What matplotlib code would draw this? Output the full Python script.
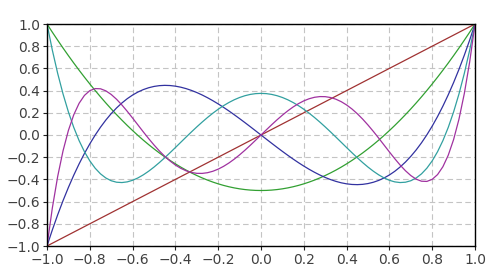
import matplotlib
matplotlib.use("Agg")
import matplotlib.pyplot as plt

# x positions (shared by all series)
x_vals = [-1.0, -0.975, -0.95, -0.925, -0.9, -0.875, -0.85, -0.825, -0.8, -0.775,
          -0.75, -0.725, -0.7, -0.675, -0.65, -0.625, -0.6, -0.575, -0.55, -0.525,
          -0.5, -0.475, -0.45, -0.425, -0.4, -0.375, -0.35, -0.325, -0.3, -0.275,
          -0.25, -0.225, -0.2, -0.175, -0.15, -0.125, -0.1, -0.075, -0.05, -0.025,
          0.0, 0.025, 0.05, 0.075, 0.1, 0.125, 0.15, 0.175, 0.2, 0.225,
          0.25, 0.275, 0.3, 0.325, 0.35, 0.375, 0.4, 0.425, 0.45, 0.475,
          0.5, 0.525, 0.55, 0.575, 0.6, 0.625, 0.65, 0.675, 0.7, 0.725,
          0.75, 0.775, 0.8, 0.825, 0.85, 0.875, 0.9, 0.925, 0.95, 0.975, 1.0]

line_brown = [-1.0, -0.975, -0.95, -0.925, -0.9, -0.875, -0.85, -0.825, -0.8, -0.775,
              -0.75, -0.725, -0.7, -0.675, -0.65, -0.625, -0.6, -0.575, -0.55, -0.525,
              -0.5, -0.475, -0.45, -0.425, -0.4, -0.375, -0.35, -0.325, -0.3, -0.275,
              -0.25, -0.225, -0.2, -0.175, -0.15, -0.125, -0.1, -0.075, -0.05, -0.025,
              0.0, 0.025, 0.05, 0.075, 0.1, 0.125, 0.15, 0.175, 0.2, 0.225,
              0.25, 0.275, 0.3, 0.325, 0.35, 0.375, 0.4, 0.425, 0.45, 0.475,
              0.5, 0.525, 0.55, 0.575, 0.6, 0.625, 0.65, 0.675, 0.7, 0.725,
              0.75, 0.775, 0.8, 0.825, 0.85, 0.875, 0.9, 0.925, 0.95, 0.975, 1.0]

line_green = [1.0, 0.9259, 0.8538, 0.7834, 0.715, 0.6484, 0.5838, 0.5209, 0.46, 0.4009,
              0.3438, 0.2884, 0.235, 0.1834, 0.1338, 0.0859, 0.04, -0.0041, -0.0463, -0.0866,
              -0.125, -0.1616, -0.1963, -0.2291, -0.26, -0.2891, -0.3163, -0.3416, -0.365, -0.3866,
              -0.4063, -0.4241, -0.44, -0.4541, -0.4663, -0.4766, -0.485, -0.4916, -0.4963, -0.4991,
              -0.5, -0.4991, -0.4963, -0.4916, -0.485, -0.4766, -0.4663, -0.4541, -0.44, -0.4241,
              -0.4063, -0.3866, -0.365, -0.3416, -0.3163, -0.2891, -0.26, -0.2291, -0.1963, -0.1616,
              -0.125, -0.0866, -0.0463, -0.0041, 0.04, 0.0859, 0.1338, 0.1834, 0.235, 0.2884,
              0.3438, 0.4009, 0.46, 0.5209, 0.5838, 0.6484, 0.715, 0.7834, 0.8538, 0.9259, 1.0]

line_blue = [-1.0, -0.8547, -0.7184, -0.5911, -0.4725, -0.3623, -0.2603, -0.1663, -0.08, -0.0012,
             0.0703, 0.1348, 0.1925, 0.2436, 0.2884, 0.3272, 0.36, 0.3872, 0.4091, 0.4257,
             0.4375, 0.4446, 0.4472, 0.4456, 0.44, 0.4307, 0.4178, 0.4017, 0.3825, 0.3605,
             0.3359, 0.309, 0.28, 0.2491, 0.2166, 0.1826, 0.1475, 0.1115, 0.0747, 0.0375,
             0.0, -0.0375, -0.0747, -0.1115, -0.1475, -0.1826, -0.2166, -0.2491, -0.28, -0.309,
             -0.3359, -0.3605, -0.3825, -0.4017, -0.4178, -0.4307, -0.44, -0.4456, -0.4472, -0.4446,
             -0.4375, -0.4257, -0.4091, -0.3872, -0.36, -0.3272, -0.2884, -0.2436, -0.1925, -0.1348,
             -0.0703, 0.0012, 0.08, 0.1663, 0.2603, 0.3623, 0.4725, 0.5911, 0.7184, 0.8547, 1.0]

line_teal = [1.0, 0.7638, 0.5541, 0.3693, 0.2079, 0.0685, -0.0506, -0.1506, -0.233, -0.2991,
             -0.3501, -0.3874, -0.4121, -0.4254, -0.4284, -0.4223, -0.408, -0.3866, -0.359, -0.3262,
             -0.2891, -0.2484, -0.205, -0.1596, -0.113, -0.0658, -0.0187, 0.0277, 0.0729, 0.1164,
             0.1577, 0.1964, 0.232, 0.2643, 0.2928, 0.3175, 0.3379, 0.354, 0.3657, 0.3727,
             0.375, 0.3727, 0.3657, 0.354, 0.3379, 0.3175, 0.2928, 0.2643, 0.232, 0.1964,
             0.1577, 0.1164, 0.0729, 0.0277, -0.0187, -0.0658, -0.113, -0.1596, -0.205, -0.2484,
             -0.2891, -0.3262, -0.359, -0.3866, -0.408, -0.4223, -0.4284, -0.4254, -0.4121, -0.3874,
             -0.3501, -0.2991, -0.233, -0.1506, -0.0506, 0.0685, 0.2079, 0.3693, 0.5541, 0.7638, 1.0]

line_purple = [-1.0, -0.6567, -0.3727, -0.142, 0.0411, 0.182, 0.2857, 0.3567, 0.3995, 0.4182,
               0.4164, 0.3977, 0.3652, 0.3219, 0.2705, 0.2133, 0.1526, 0.0904, 0.0282, -0.0323,
               -0.0898, -0.1433, -0.1917, -0.2344, -0.2706, -0.3001, -0.3225, -0.3376, -0.3454, -0.346,
               -0.3397, -0.3267, -0.3075, -0.2825, -0.2523, -0.2175, -0.1788, -0.137, -0.0927, -0.0467,
               0.0, 0.0467, 0.0927, 0.137, 0.1788, 0.2175, 0.2523, 0.2825, 0.3075, 0.3267,
               0.3397, 0.346, 0.3454, 0.3376, 0.3225, 0.3001, 0.2706, 0.2344, 0.1917, 0.1433,
               0.0898, 0.0323, -0.0282, -0.0904, -0.1526, -0.2133, -0.2705, -0.3219, -0.3652, -0.3977,
               -0.4164, -0.4182, -0.3995, -0.3567, -0.2857, -0.182, -0.0411, 0.142, 0.3727, 0.6567, 1.0]

tick_vals = [-1.0, -0.8, -0.6, -0.4, -0.2, 0.0, 0.2, 0.4, 0.6, 0.8, 1.0]
tick_labels = ["\u22121.0", "\u22120.8", "\u22120.6", "\u22120.4", "\u22120.2", "0.0",
               "0.2", "0.4", "0.6", "0.8", "1.0"]

series = [line_brown, line_green, line_blue, line_teal, line_purple]
colors = ["#a03232", "#32a032", "#3232a0", "#32a0a0", "#a032a0"]

fig = plt.figure(figsize=(5.01, 2.70), dpi=100)
ax = fig.add_axes([47 / 501, 1 - 246 / 270, 428 / 501, 222 / 270])

for ys, c in zip(series, colors):
    ax.plot(x_vals, ys, color=c, linewidth=0.9, solid_joinstyle="round")

ax.set_xlim(-1, 1)
ax.set_ylim(-1, 1)
ax.set_xticks(tick_vals)
ax.set_yticks(tick_vals)
ax.set_xticklabels(tick_labels)
ax.set_yticklabels(tick_labels)
ax.grid(True, color="#c4c4c4", linestyle=(0, (5, 3)), linewidth=0.8)
ax.set_axisbelow(True)
ax.tick_params(direction="out", length=3, width=0.8, colors="#222222",
               labelcolor="#404040", labelsize=10, pad=2)
for s in ax.spines.values():
    s.set_color("black")
    s.set_linewidth(1.0)

fig.savefig("out.png", dpi=100)
